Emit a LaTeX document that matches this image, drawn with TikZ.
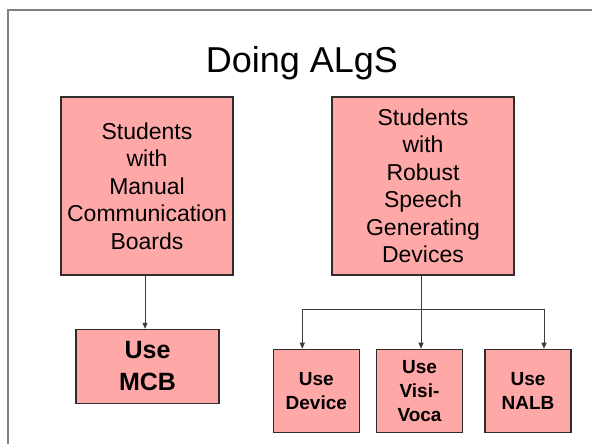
\documentclass[tikz,border=0pt]{standalone}
\usepackage{fontspec}
\setmainfont{Liberation Sans}
\usetikzlibrary{arrows.meta}
\definecolor{boxfill}{RGB}{255,168,168}
\definecolor{boxline}{RGB}{45,45,45}
\definecolor{frameline}{RGB}{128,128,128}
\definecolor{linkline}{RGB}{60,60,60}

\begin{document}
\begin{tikzpicture}[x=1pt,y=-1pt,
  box/.style={draw=boxline, line width=1.1pt, fill=boxfill, inner sep=0pt, align=center},
  group/.style={box, font=\fontsize{23}{27.5}\selectfont},
  bigaction/.style={box, font=\bfseries\fontsize{25}{32}\selectfont},
  action/.style={box, font=\bfseries\fontsize{19}{24}\selectfont,
                 minimum width=86pt, minimum height=83.5pt},
  wire/.style={draw=linkline, line width=0.9pt},
  link/.style={wire, -{Triangle[length=6pt,width=5pt]}},
]
\useasboundingbox (0,0) rectangle (592,444);
\fill[white] (0,0) rectangle (592,444);
% slide frame (only top and left edges fall inside the page)
\draw[frameline, line width=1.6pt] (7.7,444) -- (7.7,10) -- (592,10);

% title
\node[anchor=base, font=\fontsize{36}{40}\selectfont] (title) at (302,72.3) {Doing ALgS};

% student groups
\node[group, minimum width=172pt, minimum height=178pt] (manual) at (147,186)
  {Students\\with\\Manual\\Communication\\Boards};
\node[group, minimum width=182pt, minimum height=178pt] (robust) at (423,186)
  {Students\\with\\Robust\\Speech\\Generating\\Devices};

% actions
\node[bigaction, minimum width=143pt, minimum height=74pt] (mcb) at (147.5,366.3)
  {Use\\MCB};
\node[action] (device) at (316.3,391) {Use\\Device};
\node[action] (visi) at (419.5,391) {Use\\Visi-\\Voca};
\node[action] (nalb) at (528,391) {Use\\NALB};

% connector positions
\coordinate (stemL) at (145,0);
\coordinate (bus) at (0,309.3);
\coordinate (tapL) at (302.3,0);
\coordinate (tapM) at (421,0);
\coordinate (tapR) at (544,0);

% connectors
\draw[link] (stemL |- manual.south) -- (stemL |- mcb.north);
\draw[wire] (tapL |- bus) -- (tapR |- bus);
\draw[link] (tapM |- robust.south) -- (tapM |- visi.north);
\draw[link] (tapL |- bus) -- (tapL |- device.north);
\draw[link] (tapR |- bus) -- (tapR |- nalb.north);
\end{tikzpicture}
\end{document}
